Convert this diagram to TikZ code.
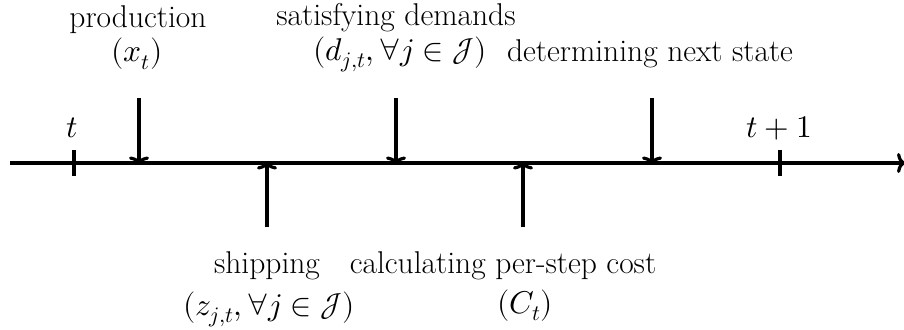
\documentclass[tikz,border=0pt]{standalone}
\usepackage{unicode-math}
\setmathfont{Latin Modern Math}
\usetikzlibrary{arrows.meta}
\begin{document}
\begin{tikzpicture}[x=1pt,y=-1pt,
  lbl/.style={font=\fontsize{31.5}{38}\selectfont, inner sep=0pt, anchor=base},
  axisline/.style={line width=3.2pt},
  evarrow/.style={line width=3.2pt,-{To[length=8pt,width=20pt]}}]
\useasboundingbox (0,0) rectangle (904,329);
% axis
\coordinate (axL) at (10,163);
\coordinate (axR) at (905,163);
\draw[axisline,-{To[length=8pt,width=20pt]}] (axL) -- (axR);
% ticks
\coordinate (t0a) at (74,150); \coordinate (t0b) at (74,176);
\coordinate (t1a) at (780,150); \coordinate (t1b) at (780,176);
\draw[axisline] (t0a) -- (t0b);
\draw[axisline] (t1a) -- (t1b);
\node[lbl] (tl) at (72,137) {$t$};
\node[lbl] (t1l) at (779,137) {$t+1$};
% top labels
\node[lbl] (prod) at (138,28) {production};
\node[lbl] (prodm) at (137,62) {$(x_t)$};
\node[lbl] (sat) at (396,26) {satisfying demands};
\node[lbl] (satm) at (400,60) {$(d_{j,t},\forall j\in\mathscr{J})$};
\node[lbl] (det) at (650,62) {determining next state};
% bottom labels
\node[lbl] (ship) at (267,273) {shipping};
\node[lbl] (shipm) at (269,315) {$(z_{j,t},\forall j\in\mathscr{J})$};
\node[lbl] (calc) at (503,273) {calculating per-step cost};
\node[lbl] (calcm) at (525,313) {$(C_t)$};
% down arrows
\coordinate (a1s) at (139,98);  \coordinate (a1e) at (139,164.5);
\coordinate (a2s) at (396,98);  \coordinate (a2e) at (396,164.5);
\coordinate (a3s) at (652,98);  \coordinate (a3e) at (652,164.5);
\draw[evarrow] (a1s) -- (a1e);
\draw[evarrow] (a2s) -- (a2e);
\draw[evarrow] (a3s) -- (a3e);
% up arrows
\coordinate (b1s) at (267,227); \coordinate (b1e) at (267,161.5);
\coordinate (b2s) at (523,227); \coordinate (b2e) at (523,161.5);
\draw[evarrow] (b1s) -- (b1e);
\draw[evarrow] (b2s) -- (b2e);
\end{tikzpicture}
\end{document}
